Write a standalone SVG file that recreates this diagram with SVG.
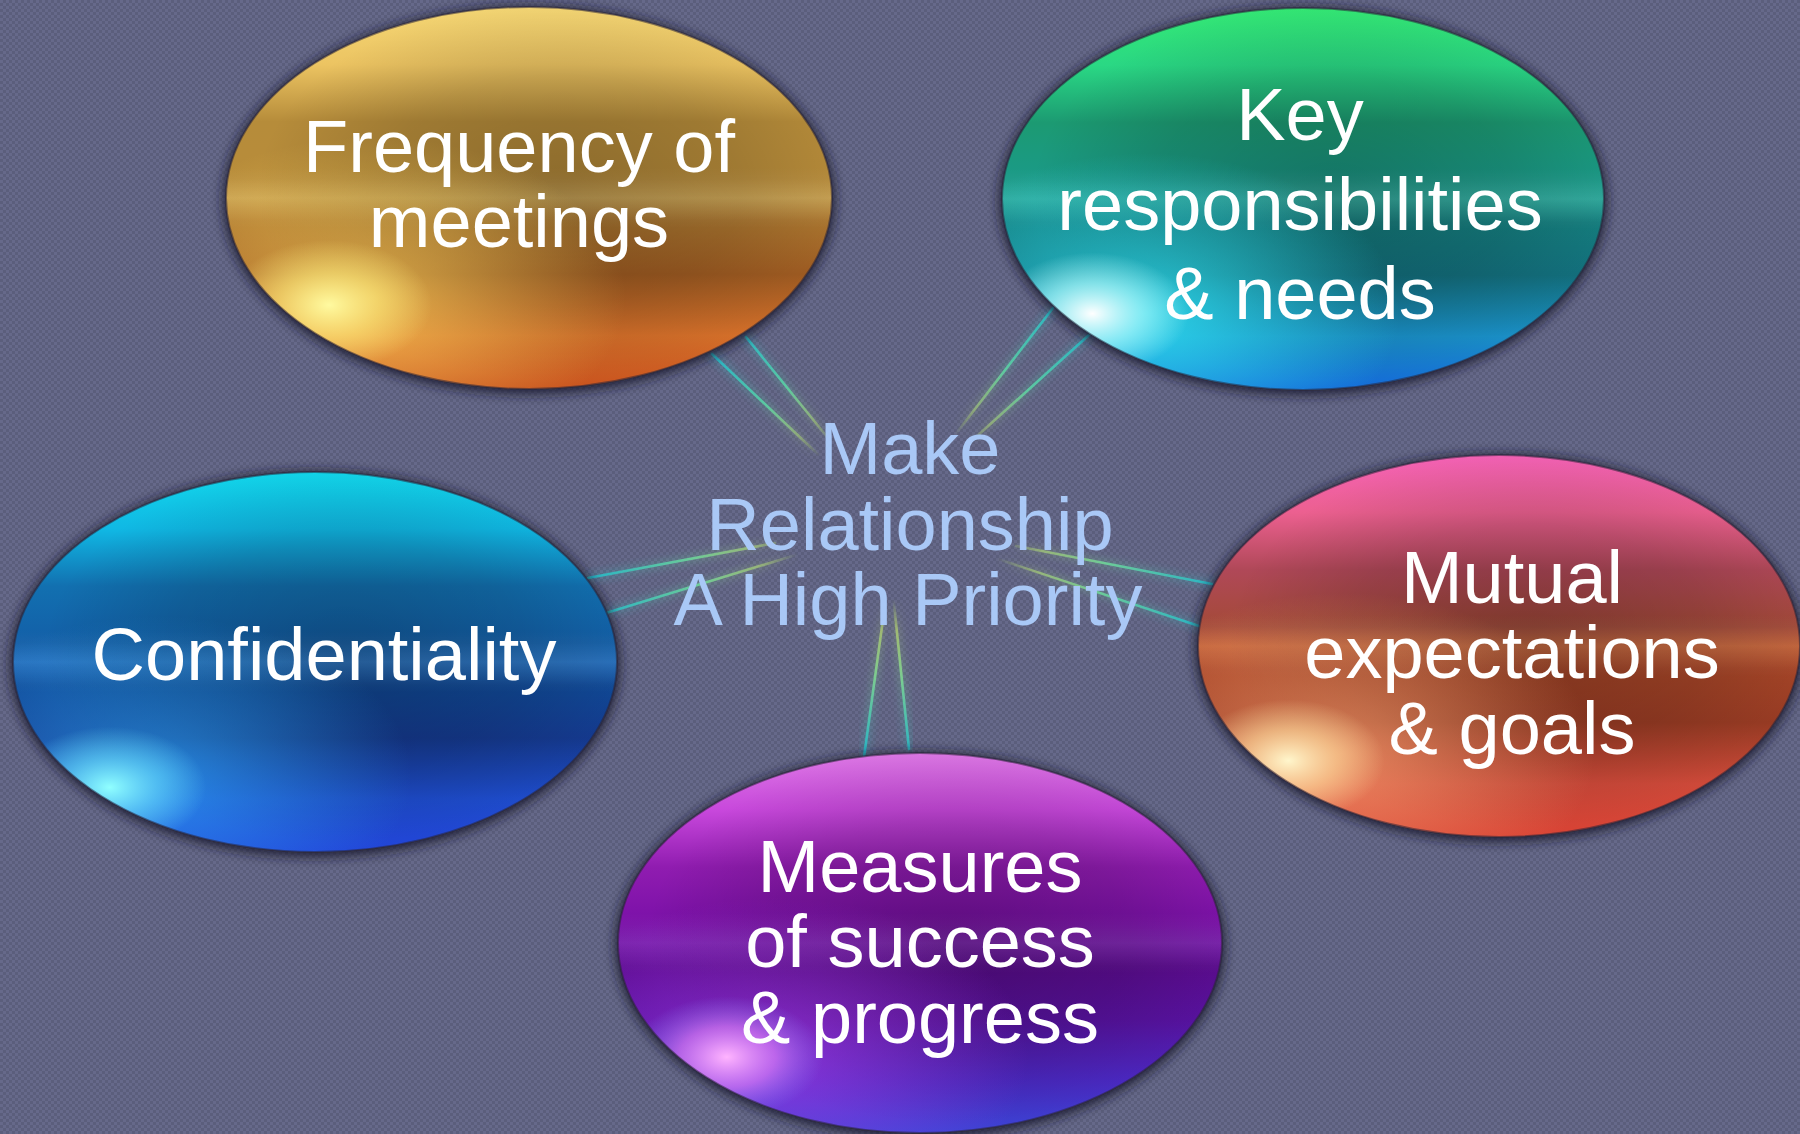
<svg xmlns="http://www.w3.org/2000/svg" width="1800" height="1134" viewBox="0 0 1800 1134">
  <defs>
    <style>
      .label { font-family: "Liberation Sans", Arial, sans-serif; font-size: 74px; fill: #ffffff; text-anchor: middle; }
      .hub { font-family: "Liberation Sans", Arial, sans-serif; font-size: 74px; fill: #a9c8f6; text-anchor: middle; }
      .core { fill: none; stroke-width: 2.6; stroke-linecap: round; }
      .halo { fill: none; stroke-width: 10; stroke-linecap: round; stroke-opacity: 0.22; filter: url(#soft); }
      .rim { fill: none; stroke: #2a2438; stroke-opacity: 0.55; stroke-width: 2; }
      .shadow { fill: #1b1b2b; fill-opacity: 0.85; filter: url(#orbShadow); }
    </style>

    <!-- woven checker backdrop -->
    <pattern id="weave" width="6" height="6" patternUnits="userSpaceOnUse">
      <rect width="6" height="6" fill="#5b5e7c"/>
      <rect width="3" height="3" fill="#66698a"/>
      <rect x="3" y="3" width="3" height="3" fill="#66698a"/>
    </pattern>

    <filter id="orbShadow" x="-10%" y="-10%" width="120%" height="120%">
      <feGaussianBlur stdDeviation="6"/>
    </filter>
    <filter id="soft" x="-20%" y="-20%" width="140%" height="140%">
      <feGaussianBlur stdDeviation="3"/>
    </filter>

    <!-- shared orb shading -->
    <radialGradient id="centerShade" cx="0.55" cy="0.48" r="0.5">
      <stop offset="0" stop-color="#000" stop-opacity="0.24"/>
      <stop offset="0.6" stop-color="#000" stop-opacity="0.13"/>
      <stop offset="1" stop-color="#000" stop-opacity="0"/>
    </radialGradient>
    <linearGradient id="equator" x1="0" y1="0" x2="0" y2="1">
      <stop offset="0.42" stop-color="#fff" stop-opacity="0"/>
      <stop offset="0.5" stop-color="#fff" stop-opacity="0.08"/>
      <stop offset="0.58" stop-color="#fff" stop-opacity="0"/>
    </linearGradient>

    <!-- gold orb -->
    <linearGradient id="freqBase" x1="0" y1="0" x2="0" y2="1">
      <stop offset="0" stop-color="#f4d674"/>
      <stop offset="0.15" stop-color="#ecc462"/>
      <stop offset="0.3" stop-color="#b68c3a"/>
      <stop offset="0.45" stop-color="#b88c3a"/>
      <stop offset="0.5" stop-color="#c49a45"/>
      <stop offset="0.56" stop-color="#ae7830"/>
      <stop offset="0.7" stop-color="#a05c22"/>
      <stop offset="0.86" stop-color="#d6702a"/>
      <stop offset="1" stop-color="#c8521e"/>
    </linearGradient>
    <radialGradient id="freqWash" cx="0.24" cy="0.76" r="0.42">
      <stop offset="0" stop-color="#ffd860" stop-opacity="0.65"/>
      <stop offset="1" stop-color="#ffd860" stop-opacity="0"/>
    </radialGradient>
    <radialGradient id="freqGlint" cx="0.17" cy="0.78" r="0.17">
      <stop offset="0" stop-color="#fffaa0" stop-opacity="1"/>
      <stop offset="0.5" stop-color="#fff080" stop-opacity="0.55"/>
      <stop offset="1" stop-color="#fff080" stop-opacity="0"/>
    </radialGradient>

    <!-- green / teal orb -->
    <linearGradient id="keyBase" x1="0" y1="0" x2="0" y2="1">
      <stop offset="0" stop-color="#34e874"/>
      <stop offset="0.15" stop-color="#2ad884"/>
      <stop offset="0.3" stop-color="#1c9a72"/>
      <stop offset="0.45" stop-color="#1a9a88"/>
      <stop offset="0.5" stop-color="#20a496"/>
      <stop offset="0.56" stop-color="#158080"/>
      <stop offset="0.7" stop-color="#13707e"/>
      <stop offset="0.86" stop-color="#1a90c8"/>
      <stop offset="1" stop-color="#1468d8"/>
    </linearGradient>
    <radialGradient id="keyWash" cx="0.24" cy="0.8" r="0.42">
      <stop offset="0" stop-color="#30e4f4" stop-opacity="0.8"/>
      <stop offset="1" stop-color="#30e4f4" stop-opacity="0"/>
    </radialGradient>
    <radialGradient id="keyGlint" cx="0.15" cy="0.8" r="0.16">
      <stop offset="0" stop-color="#ffffff" stop-opacity="1"/>
      <stop offset="0.5" stop-color="#c0ffff" stop-opacity="0.6"/>
      <stop offset="1" stop-color="#c0ffff" stop-opacity="0"/>
    </radialGradient>

    <!-- blue orb -->
    <linearGradient id="confBase" x1="0" y1="0" x2="0" y2="1">
      <stop offset="0" stop-color="#12d6ea"/>
      <stop offset="0.15" stop-color="#10b8e4"/>
      <stop offset="0.3" stop-color="#1270b0"/>
      <stop offset="0.45" stop-color="#135fa8"/>
      <stop offset="0.5" stop-color="#1866b8"/>
      <stop offset="0.56" stop-color="#104a98"/>
      <stop offset="0.7" stop-color="#153a90"/>
      <stop offset="0.86" stop-color="#1e4ccc"/>
      <stop offset="1" stop-color="#2244d8"/>
    </linearGradient>
    <radialGradient id="confWash" cx="0.24" cy="0.8" r="0.42">
      <stop offset="0" stop-color="#30b4ff" stop-opacity="0.6"/>
      <stop offset="1" stop-color="#30b4ff" stop-opacity="0"/>
    </radialGradient>
    <radialGradient id="confGlint" cx="0.16" cy="0.83" r="0.16">
      <stop offset="0" stop-color="#90ffff" stop-opacity="1"/>
      <stop offset="0.5" stop-color="#70e8ff" stop-opacity="0.55"/>
      <stop offset="1" stop-color="#70e8ff" stop-opacity="0"/>
    </radialGradient>

    <!-- coral orb -->
    <linearGradient id="mutBase" x1="0" y1="0" x2="0" y2="1">
      <stop offset="0" stop-color="#f462b6"/>
      <stop offset="0.15" stop-color="#ec6090"/>
      <stop offset="0.3" stop-color="#b04858"/>
      <stop offset="0.45" stop-color="#a44a38"/>
      <stop offset="0.5" stop-color="#c05a2e"/>
      <stop offset="0.56" stop-color="#a84628"/>
      <stop offset="0.7" stop-color="#9a3c24"/>
      <stop offset="0.86" stop-color="#d04a3a"/>
      <stop offset="1" stop-color="#d84234"/>
    </linearGradient>
    <radialGradient id="mutWash" cx="0.24" cy="0.78" r="0.42">
      <stop offset="0" stop-color="#f8a070" stop-opacity="0.7"/>
      <stop offset="1" stop-color="#f8a070" stop-opacity="0"/>
    </radialGradient>
    <radialGradient id="mutGlint" cx="0.15" cy="0.8" r="0.16">
      <stop offset="0" stop-color="#fff6cc" stop-opacity="1"/>
      <stop offset="0.5" stop-color="#ffe0a0" stop-opacity="0.6"/>
      <stop offset="1" stop-color="#ffe0a0" stop-opacity="0"/>
    </radialGradient>

    <!-- violet orb -->
    <linearGradient id="measBase" x1="0" y1="0" x2="0" y2="1">
      <stop offset="0" stop-color="#dc78e4"/>
      <stop offset="0.15" stop-color="#c848dc"/>
      <stop offset="0.3" stop-color="#901cb0"/>
      <stop offset="0.45" stop-color="#7a10a8"/>
      <stop offset="0.5" stop-color="#7012a6"/>
      <stop offset="0.56" stop-color="#5c0c90"/>
      <stop offset="0.7" stop-color="#5812a0"/>
      <stop offset="0.86" stop-color="#4a28c0"/>
      <stop offset="1" stop-color="#3a44d4"/>
    </linearGradient>
    <radialGradient id="measWash" cx="0.26" cy="0.8" r="0.42">
      <stop offset="0" stop-color="#b040f0" stop-opacity="0.6"/>
      <stop offset="1" stop-color="#b040f0" stop-opacity="0"/>
    </radialGradient>
    <radialGradient id="measGlint" cx="0.18" cy="0.8" r="0.16">
      <stop offset="0" stop-color="#ffb4ff" stop-opacity="1"/>
      <stop offset="0.5" stop-color="#e890ff" stop-opacity="0.55"/>
      <stop offset="1" stop-color="#8090ff" stop-opacity="0"/>
    </radialGradient>

    <!-- spoke gradients, outer end to hub -->
    <linearGradient id="spokeFreq" gradientUnits="userSpaceOnUse" x1="729" y1="345" x2="826" y2="450">
      <stop offset="0" stop-color="#2bb5c4"/>
      <stop offset="0.5" stop-color="#5ec8a0"/>
      <stop offset="0.8" stop-color="#a8d078" stop-opacity="0.6"/>
      <stop offset="1" stop-color="#b0d070" stop-opacity="0"/>
    </linearGradient>
    <linearGradient id="spokeKey" gradientUnits="userSpaceOnUse" x1="1071" y1="321" x2="962" y2="442">
      <stop offset="0" stop-color="#2bb5c4"/>
      <stop offset="0.5" stop-color="#5ec8a0"/>
      <stop offset="0.8" stop-color="#a8d078" stop-opacity="0.6"/>
      <stop offset="1" stop-color="#b0d070" stop-opacity="0"/>
    </linearGradient>
    <linearGradient id="spokeConf" gradientUnits="userSpaceOnUse" x1="597" y1="595" x2="795" y2="546">
      <stop offset="0" stop-color="#2bb5c4"/>
      <stop offset="0.5" stop-color="#6ccb98"/>
      <stop offset="0.8" stop-color="#a8d078" stop-opacity="0.7"/>
      <stop offset="1" stop-color="#b0d070" stop-opacity="0"/>
    </linearGradient>
    <linearGradient id="spokeMut" gradientUnits="userSpaceOnUse" x1="1205" y1="605" x2="1000" y2="549">
      <stop offset="0" stop-color="#2bb5c4"/>
      <stop offset="0.5" stop-color="#6ccb98"/>
      <stop offset="0.8" stop-color="#a8d078" stop-opacity="0.7"/>
      <stop offset="1" stop-color="#b0d070" stop-opacity="0"/>
    </linearGradient>
    <linearGradient id="spokeMeas" gradientUnits="userSpaceOnUse" x1="886" y1="753" x2="889" y2="600">
      <stop offset="0" stop-color="#2bb5c4"/>
      <stop offset="0.5" stop-color="#7ccc90"/>
      <stop offset="0.8" stop-color="#b0d070" stop-opacity="0.75"/>
      <stop offset="1" stop-color="#b0d070" stop-opacity="0"/>
    </linearGradient>
  </defs>

  <rect width="1800" height="1134" fill="url(#weave)"/>

  <!-- spokes between the hub and each orb -->
  <g id="connectors">
    <g stroke="url(#spokeFreq)">
      <line class="halo" x1="712" y1="354" x2="824" y2="460"/>
      <line class="halo" x1="746" y1="337" x2="828" y2="438"/>
      <line class="core" x1="712" y1="354" x2="824" y2="460"/>
      <line class="core" x1="746" y1="337" x2="828" y2="438"/>
    </g>
    <g stroke="url(#spokeKey)">
      <line class="halo" x1="1053" y1="308" x2="948" y2="444"/>
      <line class="halo" x1="1090" y1="334" x2="975" y2="438"/>
      <line class="core" x1="1053" y1="308" x2="948" y2="444"/>
      <line class="core" x1="1090" y1="334" x2="975" y2="438"/>
    </g>
    <g stroke="url(#spokeConf)">
      <line class="halo" x1="588" y1="578" x2="775" y2="543"/>
      <line class="halo" x1="606" y1="613" x2="812" y2="550"/>
      <line class="core" x1="588" y1="578" x2="775" y2="543"/>
      <line class="core" x1="606" y1="613" x2="812" y2="550"/>
    </g>
    <g stroke="url(#spokeMut)">
      <line class="halo" x1="1212" y1="584" x2="1016" y2="546"/>
      <line class="halo" x1="1199" y1="626" x2="986" y2="555"/>
      <line class="core" x1="1212" y1="584" x2="1016" y2="546"/>
      <line class="core" x1="1199" y1="626" x2="986" y2="555"/>
    </g>
    <g stroke="url(#spokeMeas)">
      <line class="halo" x1="864" y1="757" x2="885" y2="605"/>
      <line class="halo" x1="909" y1="749" x2="893" y2="594"/>
      <line class="core" x1="864" y1="757" x2="885" y2="605"/>
      <line class="core" x1="909" y1="749" x2="893" y2="594"/>
    </g>
  </g>

  <g id="node-frequency">
    <ellipse class="shadow" cx="529" cy="200" rx="306" ry="194"/>
    <ellipse cx="529" cy="198" rx="303" ry="191" fill="url(#freqBase)"/>
    <ellipse cx="529" cy="198" rx="303" ry="191" fill="url(#centerShade)"/>
    <ellipse cx="529" cy="198" rx="303" ry="191" fill="url(#equator)"/>
    <ellipse cx="529" cy="198" rx="303" ry="191" fill="url(#freqWash)"/>
    <ellipse cx="529" cy="198" rx="303" ry="191" fill="url(#freqGlint)"/>
    <ellipse class="rim" cx="529" cy="198" rx="303" ry="191"/>
    <text class="label" x="519" y="172">Frequency of</text>
    <text class="label" x="519" y="247">meetings</text>
  </g>

  <g id="node-key">
    <ellipse class="shadow" cx="1303" cy="201" rx="304" ry="194"/>
    <ellipse cx="1303" cy="199" rx="301" ry="191" fill="url(#keyBase)"/>
    <ellipse cx="1303" cy="199" rx="301" ry="191" fill="url(#centerShade)"/>
    <ellipse cx="1303" cy="199" rx="301" ry="191" fill="url(#equator)"/>
    <ellipse cx="1303" cy="199" rx="301" ry="191" fill="url(#keyWash)"/>
    <ellipse cx="1303" cy="199" rx="301" ry="191" fill="url(#keyGlint)"/>
    <ellipse class="rim" cx="1303" cy="199" rx="301" ry="191"/>
    <text class="label" x="1300" y="140">Key</text>
    <text class="label" x="1300" y="230">responsibilities</text>
    <text class="label" x="1300" y="319">&amp; needs</text>
  </g>

  <g id="node-confidentiality">
    <ellipse class="shadow" cx="315" cy="664" rx="305" ry="193"/>
    <ellipse cx="315" cy="662" rx="302" ry="190" fill="url(#confBase)"/>
    <ellipse cx="315" cy="662" rx="302" ry="190" fill="url(#centerShade)"/>
    <ellipse cx="315" cy="662" rx="302" ry="190" fill="url(#equator)"/>
    <ellipse cx="315" cy="662" rx="302" ry="190" fill="url(#confWash)"/>
    <ellipse cx="315" cy="662" rx="302" ry="190" fill="url(#confGlint)"/>
    <ellipse class="rim" cx="315" cy="662" rx="302" ry="190"/>
    <text class="label" x="324" y="680">Confidentiality</text>
  </g>

  <g id="node-mutual">
    <ellipse class="shadow" cx="1499" cy="648" rx="304" ry="194"/>
    <ellipse cx="1499" cy="646" rx="301" ry="191" fill="url(#mutBase)"/>
    <ellipse cx="1499" cy="646" rx="301" ry="191" fill="url(#centerShade)"/>
    <ellipse cx="1499" cy="646" rx="301" ry="191" fill="url(#equator)"/>
    <ellipse cx="1499" cy="646" rx="301" ry="191" fill="url(#mutWash)"/>
    <ellipse cx="1499" cy="646" rx="301" ry="191" fill="url(#mutGlint)"/>
    <ellipse class="rim" cx="1499" cy="646" rx="301" ry="191"/>
    <text class="label" x="1512" y="603">Mutual</text>
    <text class="label" x="1512" y="678">expectations</text>
    <text class="label" x="1512" y="754">&amp; goals</text>
  </g>

  <g id="node-measures">
    <ellipse class="shadow" cx="920" cy="945" rx="305" ry="193"/>
    <ellipse cx="920" cy="943" rx="302" ry="190" fill="url(#measBase)"/>
    <ellipse cx="920" cy="943" rx="302" ry="190" fill="url(#centerShade)"/>
    <ellipse cx="920" cy="943" rx="302" ry="190" fill="url(#equator)"/>
    <ellipse cx="920" cy="943" rx="302" ry="190" fill="url(#measWash)"/>
    <ellipse cx="920" cy="943" rx="302" ry="190" fill="url(#measGlint)"/>
    <ellipse class="rim" cx="920" cy="943" rx="302" ry="190"/>
    <text class="label" x="920" y="892">Measures</text>
    <text class="label" x="920" y="967">of success</text>
    <text class="label" x="920" y="1043">&amp; progress</text>
  </g>

  <g id="node-hub">
    <text class="hub" x="910" y="474">Make</text>
    <text class="hub" x="910" y="550">Relationship</text>
    <text class="hub" x="908" y="625">A High Priority</text>
  </g>
</svg>
